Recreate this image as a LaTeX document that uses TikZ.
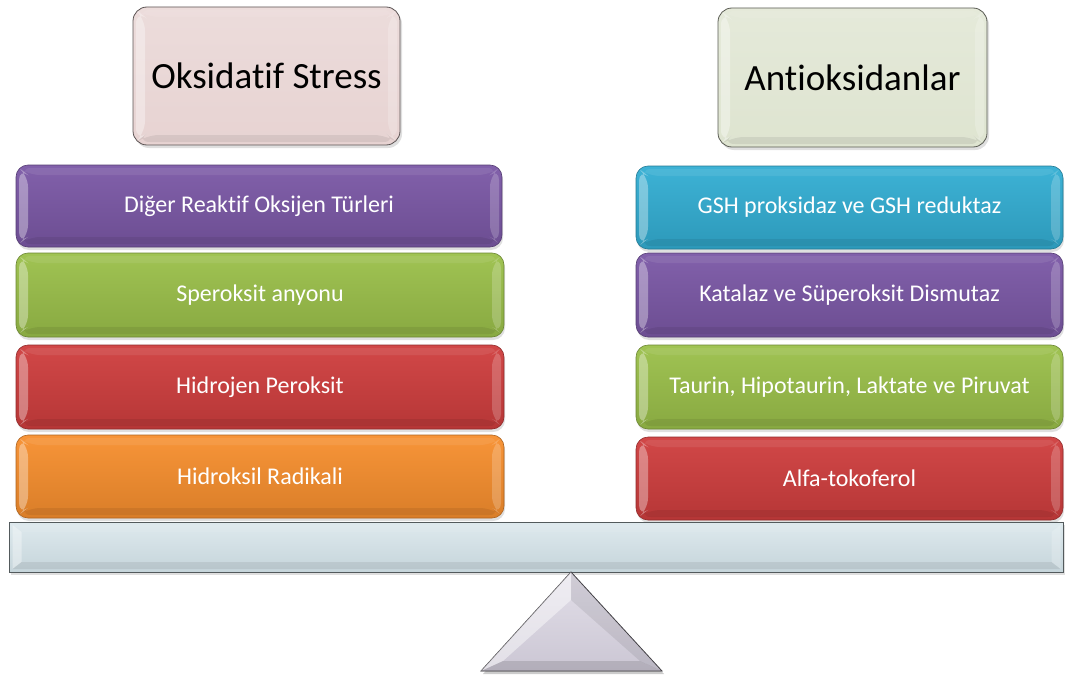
\documentclass[tikz,border=0pt]{standalone}
\usepackage{fontspec}
\setmainfont{Carlito}[RawFeature={-liga}]
\usetikzlibrary{shadows,calc}
\definecolor{cpurple}{HTML}{7B58A6}
\definecolor{cgreen}{HTML}{9BC04A}
\definecolor{cred}{HTML}{CF3E3E}
\definecolor{corange}{HTML}{F78F2E}
\definecolor{ccyan}{HTML}{33AED3}
\definecolor{cpink}{HTML}{E7D3D2}
\definecolor{csage}{HTML}{DEE4D0}
\definecolor{cbeam}{HTML}{D0E0E6}
\definecolor{ctri}{HTML}{D6D1DF}
\tikzset{
  bevel/.style={path picture={
    \coordinate (oa) at ([xshift=3pt,yshift=-3pt]path picture bounding box.north west);
    \coordinate (ob) at ([xshift=-3pt,yshift=-3pt]path picture bounding box.north east);
    \coordinate (oc) at ([xshift=-3pt,yshift=3pt]path picture bounding box.south east);
    \coordinate (od) at ([xshift=3pt,yshift=3pt]path picture bounding box.south west);
    \coordinate (ia) at ([xshift=12pt,yshift=-10pt]path picture bounding box.north west);
    \coordinate (ib) at ([xshift=-12pt,yshift=-10pt]path picture bounding box.north east);
    \coordinate (ic) at ([xshift=-12pt,yshift=10pt]path picture bounding box.south east);
    \coordinate (id) at ([xshift=12pt,yshift=10pt]path picture bounding box.south west);
    \fill[white,opacity=0.08] (oa)--(ob)--(ib)--(ia)--cycle;
    \fill[white,opacity=0.35] (oa)--(ia)--(id)--(od)--cycle;
    \fill[white,opacity=0.2] (ob)--(ib)--(ic)--(oc)--cycle;
    \fill[black,opacity=0.07] (od)--(id)--(ic)--(oc)--cycle;
  }},
  titlebox/.style={draw=#1!40!black, line width=0.8pt, rounded corners=14pt,
    top color=#1!80!white, bottom color=#1, bevel,
    drop shadow={opacity=0.25, shadow xshift=2pt, shadow yshift=-3pt},
    font=\fontsize{37}{42}\selectfont, text=black, align=center},
  itembox/.style={draw=#1!70!black, line width=0.6pt, rounded corners=12pt,
    top color=#1!95!white, bottom color=#1!88!black, bevel,
    drop shadow={opacity=0.25, shadow xshift=1pt, shadow yshift=-3pt},
    font=\fontsize{24}{28}\selectfont, text=white, align=center, inner sep=0pt},
}
\begin{document}
\begin{tikzpicture}[x=1pt,y=-1pt]
\useasboundingbox (0,0) rectangle (1065,677);
% titles
\node[titlebox=cpink, minimum width=267pt, minimum height=138pt] (tl) at (266.5,76) {Oksidatif Stress};
\node[titlebox=csage, minimum width=269pt, minimum height=139pt] (tr) at (852.5,77.5) {Antioksidanlar};
% left column
\node[itembox=cpurple, minimum width=486pt, minimum height=82pt] (l1) at (259,206) {Diğer Reaktif Oksijen Türleri};
\node[itembox=cgreen, minimum width=488pt, minimum height=84pt] (l2) at (260,295) {Speroksit anyonu};
\node[itembox=cred, minimum width=488pt, minimum height=84pt] (l3) at (260,387) {Hidrojen Peroksit};
\node[itembox=corange, minimum width=488pt, minimum height=83pt] (l4) at (260,476.5) {Hidroksil Radikali};
% right column
\node[itembox=ccyan, minimum width=427pt, minimum height=83pt] (r1) at (849.5,207.5) {GSH proksidaz ve GSH reduktaz};
\node[itembox=cpurple, minimum width=427pt, minimum height=84pt] (r2) at (849.5,295) {Katalaz ve Süperoksit Dismutaz};
\node[itembox=cgreen, minimum width=427pt, minimum height=84pt] (r3) at (849.5,387) {Taurin, Hipotaurin, Laktate ve Piruvat};
\node[itembox=cred, minimum width=427pt, minimum height=83pt] (r4) at (849.5,478.5) {Alfa-tokoferol};
% beam
\node[draw=cbeam!40!black, line width=0.8pt, top color=cbeam!70!white, bottom color=cbeam!95!black,
  bevel, drop shadow={opacity=0.25, shadow xshift=1pt, shadow yshift=-3pt},
  minimum width=1054pt, minimum height=50pt, inner sep=0pt] (beam) at (536.5,547) {};
% fulcrum
\coordinate (apex) at (571,572);
\coordinate (bl) at (481,671);
\coordinate (br) at (662,671);
\fill[black,opacity=0.2] ($(apex)+(2,3)$) -- ($(br)+(2,3)$) -- ($(bl)+(2,3)$) -- cycle;
\filldraw[draw=ctri!35!black, line width=0.8pt, top color=ctri!70!white, bottom color=ctri!95!black] (apex) -- (br) -- (bl) -- cycle;
\coordinate (iapex) at (571,600);
\coordinate (ibl) at (503,661);
\coordinate (ibr) at (640,661);
\fill[white,opacity=0.45] (apex) -- (iapex) -- (ibl) -- (bl) -- cycle;
\fill[black,opacity=0.08] (apex) -- (iapex) -- (ibr) -- (br) -- cycle;
\fill[black,opacity=0.12] (bl) -- (ibl) -- (ibr) -- (br) -- cycle;
\end{tikzpicture}
\end{document}
